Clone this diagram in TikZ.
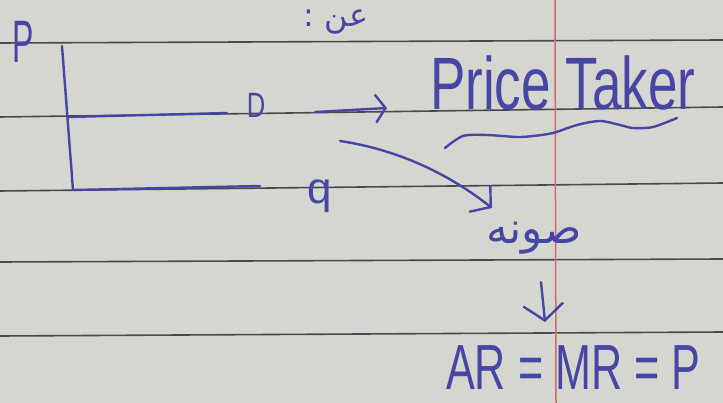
\documentclass[tikz,border=0pt]{standalone}
\usepackage{fontspec}
\setmainfont{Liberation Sans}
\newfontfamily\arabicfont[Script=Arabic]{DejaVu Sans}
\TeXXeTstate=1
\usetikzlibrary{arrows.meta}
\definecolor{paper}{RGB}{214,214,208}
\definecolor{rulegray}{RGB}{72,72,78}
\definecolor{margin}{RGB}{205,110,110}
\definecolor{ink}{RGB}{70,70,165}
\begin{document}
\begin{tikzpicture}[x=1pt,y=-1pt,
  inkline/.style={draw=ink, line width=2.4pt, line cap=round, line join=round},
  handtext/.style={text=ink, inner sep=0pt}]
\useasboundingbox (0,0) rectangle (723,403);
\fill[paper] (0,0) rectangle (723,403);
% ruled paper
\foreach \a/\b in {43/40, 117/107, 191/183, 262/259, 336/332}
  \draw[rulegray, line width=1.6pt] (0,\a) -- (723,\b);
\draw[margin, line width=1.5pt] (555,0) -- (556,403);
% axes
\node[handtext, font=\fontsize{40}{40}\selectfont] (P) at (23,42) {\scalebox{0.8}[1.5]{P}};
\coordinate (top) at (62,46);
\coordinate (origin) at (73,190);
\coordinate (xend) at (260,186);
\draw[inkline] (top) -- (origin) -- (xend);
\coordinate (d0) at (68,117);
\coordinate (d1) at (227,113);
\draw[inkline] (d0) -- (d1);
\node[handtext, font=\fontsize{32}{32}\selectfont] (D) at (256,105) {\scalebox{0.8}[1.1]{D}};
\node[handtext, font=\fontsize{44}{44}\selectfont] (q) at (320,196) {q};
% top arabic
\node[handtext, font=\arabicfont\fontsize{32}{32}\selectfont] (top ar) at (336,22) {\beginR عن :\endR};
% price taker
\node[handtext, anchor=base west, font=\fontsize{53}{53}\selectfont] (PT) at (430,110) {\scalebox{1}[1.4]{Price Taker}};
\coordinate (a0) at (315,112);
\coordinate (a1) at (387,108);
\draw[inkline, -{Straight Barb[length=10pt,width=28pt]}] (a0) -- (a1);
\draw[inkline] plot[smooth] coordinates {(445,148) (463,136) (487,135) (517,137) (533,136) (553,133) (577,125) (600,121) (620,125) (633,128) (653,127) (677,118)};
% curved arrow
\node[handtext, font=\arabicfont\fontsize{44}{44}\selectfont] (ar2) at (534,238) {\beginR صونه\endR};
\coordinate (c0) at (340,141);
\coordinate (c1) at (492,208);
\draw[inkline, -{Straight Barb[length=14pt,width=34pt]}] (c0) .. controls (400,150) and (450,175) .. (c1);
% down arrow
\coordinate (b0) at (541,282);
\coordinate (b1) at (545,322);
\draw[inkline, -{Straight Barb[length=16pt,width=40pt]}] (b0) -- (b1);
% result
\node[handtext, anchor=base west, font=\fontsize{44}{44}\selectfont] (res) at (446,389) {\scalebox{0.98}[1.45]{AR = MR = P}};
\end{tikzpicture}
\end{document}
